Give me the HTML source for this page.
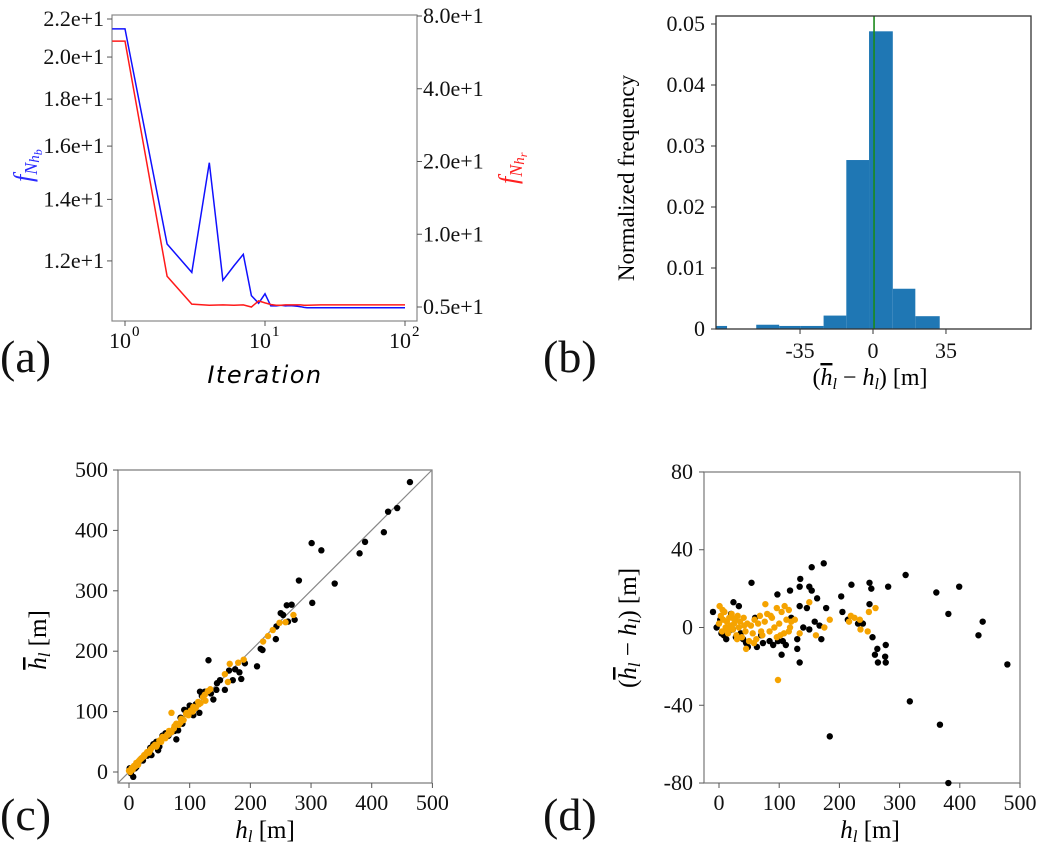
<!DOCTYPE html>
<html><head><meta charset="utf-8">
<style>
html,body{margin:0;padding:0;background:#fff;}
svg{display:block;font-family:"Liberation Serif",serif;}
text{font-family:"Liberation Serif",serif;}
.tk{font-size:22px;fill:#111;font-family:"Liberation Serif",serif;}
.pl{font-size:46px;fill:#111;}
</style></head>
<body>
<svg id="fig" width="1044" height="850" viewBox="0 0 1044 850" xmlns="http://www.w3.org/2000/svg">
<g id="pa"></g>
<g id="pb"></g>
<g id="pc"></g>
<g id="pd"></g>
<text class="pl" x="0" y="372">(a)</text>
<text class="pl" x="543" y="372">(b)</text>
<text class="pl" x="0" y="830">(c)</text>
<text class="pl" x="543" y="830">(d)</text>
</svg>
<script>
// ---- Panel (a) data ----
const iterA = [0.81,1,2,3,4,5,6,7,8,9,10,11,12,13,14,15,16,17,18,19,20,25,30,40,50,60,70,80,90,100];
const blueA = [21.46,21.46,12.52,11.66,15.35,11.43,11.85,12.2,11.0,10.79,11.05,10.72,10.72,10.74,10.72,10.73,10.72,10.71,10.7,10.68,10.67,10.67,10.67,10.67,10.67,10.67,10.67,10.67,10.67,10.67];
const redA = [63,63,6.7,5.14,5.08,5.1,5.08,5.1,5.0,5.3,5.2,5.12,5.08,5.08,5.1,5.1,5.1,5.1,5.1,5.08,5.08,5.1,5.1,5.1,5.1,5.1,5.1,5.1,5.1,5.1];
const leftTicksA = [22,20,18,16,14,12];
const leftTickLabelsA = ["2.2e+1","2.0e+1","1.8e+1","1.6e+1","1.4e+1","1.2e+1"];
const rightTicksA = [80,40,20,10,5];
const rightTickLabelsA = ["8.0e+1","4.0e+1","2.0e+1","1.0e+1","0.5e+1"];
const xTicksA = [1,10,100];
const xTickLabelsA = ["0","1","2"];
// ---- Panel (b) data ----
const binLeftB = [-75.5,-56,-45,-34.6,-23.7,-12.8,-1.9,9.5,20.3];
const binRightB = [-70,-45,-34.6,-23.7,-12.8,-1.9,9.5,20.3,32];
const freqB = [0.0005,0.0007,0.0005,0.0005,0.0022,0.0277,0.0488,0.0066,0.0021];
const yTicksB = [0,0.01,0.02,0.03,0.04,0.05];
const yTickLabelsB = ["0","0.01","0.02","0.03","0.04","0.05"];
const xTicksB = [-35,0,35];
const meanB = 0.5;
// ---- Panel (c) data ----
const cBlackH = [463,427,442,420,389,380,301,317,339,302,280,268,260,273,250,254,262,242,243,217,220,211,131,175,171,182,185,191,150,158,139,144,117,125,116,91,106,78,81,48,37,23,7,1,60,65,55,70,85,95,100,110,30,35,40,45,15,12,20,28,5,3,10,50,75,88,120,135,165,145];
const cBlackHb = [480,431,437,397,381,362,379,367,312,280,317,277,276,252,263,260,249,220,241,204,202,175,185,170,152,165,154,180,152,136,120,136,133,133,98,103,94,54,69,36,28,19,-8,6,64,60,60,66,90,102,110,112,27,40,46,50,14,8,22,28,3,-2,6,42,68,80,126,130,168,147];
const cOrH = [158,163,166,180,189,221,229,237,248,258,271,70,134,0,2,4,6,8,10,12,14,16,18,20,22,25,28,30,33,36,40,43,46,50,53,56,60,63,66,70,74,78,82,86,90,94,98,102,106,110,114,118,122,126,130,5,15,25,35,45,55,65,75,85,95,105,115,125];
const cOrHb = [162,149,179,181,186,216,225,235,247,248,260,98,137,2,0,6,4,10,9,15,12,18,20,22,24,26,30,33,32,38,42,45,44,52,50,58,56,62,68,66,72,80,78,88,86,96,94,102,108,106,116,114,124,118,134,4,12,28,36,42,58,62,76,82,98,100,112,128];
const ticksC = [0,100,200,300,400,500];
// ---- Panel (d) data ----
const dBlackH = [54,174,154,135,134,118,97,150,154,163,178,146,134,159,140,150,167,170,134,130,130,104,111,98,90,70,63,45,184,203,205,220,214,250,253,250,231,239,255,263,259,264,277,276,277,281,310,317,361,381,367,399,381,431,438,479,24,33,4,12,23,40,48,73,84,106,120,-10,-4,8,16,28,36,60,2,20];
const dBlackD = [23,33,31,25,21,19,17,21,19,15,10,10,11,3,0,-1,1,-6,-18,-11,-6,-14,-9,-7,-9,-4,-10,-8,-56,16,8,22,4,23,20,12,2,2,-5,-11,-14,-18,-9,-15,-18,21,27,-38,18,7,-50,21,-80,-4,3,-19,13,11,-3,-6,-1,-6,-10,-8,-7,-7,5,8,0,-4,-2,-5,-3,5,4,7];
const dOrH = [98,150,134,161,175,184,219,225,216,234,235,247,249,260,77,96,109,116,126,45,1,0,3,5,7,9,11,13,15,17,19,21,23,25,27,29,31,33,35,38,41,44,47,50,53,56,59,62,65,68,72,76,80,84,88,92,96,100,104,108,112,116,120,6,14,22,30,42,58,70,86,102,118];
const dOrD = [-27,13,-3,-4,0,4,6,5,3,4,-1,-2,8,10,12,10,11,9,4,-11,11,2,6,-2,4,8,0,3,-3,5,1,7,-1,2,4,-4,6,0,3,-5,5,-2,2,-7,1,-3,4,-6,2,6,-4,3,7,-2,5,0,-5,2,8,-3,4,-2,3,9,-1,5,-6,1,-8,-2,6,-4,0];
const xTicksD = [0,100,200,300,400,500];
const yTicksD = [-80,-40,0,40,80];

const NS="http://www.w3.org/2000/svg";
function mk(parent,tag,attrs,txt){const e=document.createElementNS(NS,tag);for(const k in attrs)e.setAttribute(k,attrs[k]);if(txt!==undefined)e.textContent=txt;parent.appendChild(e);return e;}

// ===== Panel A =====
(function(){
const g=document.getElementById('pa');
const L=112,R=417,T=15,B=321;
const xA=v=>125+140*Math.log10(v);
const yL=v=>19+919*Math.log10(22/v);
const yR=v=>16+72.75*Math.log2(80/v);
let f=mk(g,'rect',{x:L,y:T,width:R-L,height:B-T,fill:'none',stroke:'#888','stroke-width':1.2});


leftTicksA.forEach((v,i)=>{const y=yL(v);
 mk(g,'line',{x1:L-5,x2:L,y1:y,y2:y,stroke:'#555'});
 let t=mk(g,'text',{x:L-8,y:y+7,'text-anchor':'end',class:'tk'},leftTickLabelsA[i]);
 
 });
rightTicksA.forEach((v,i)=>{const y=yR(v);
 mk(g,'line',{x1:R,x2:R+5,y1:y,y2:y,stroke:'#555'});
 let t=mk(g,'text',{x:R+6,y:y+7,class:'tk'},rightTickLabelsA[i]);
 
 });
xTicksA.forEach((v,i)=>{const x=xA(v);
 mk(g,'line',{x1:x,x2:x,y1:B,y2:B+5,stroke:'#555'});
 let t=mk(g,'text',{x:x-5,y:B+27,'text-anchor':'middle',class:'tk'},'10');
 
 
 mk(g,'text',{x:x+7,y:B+15,'font-size':15},xTickLabelsA[i]);});
const pts=(arr,fy)=>iterA.map((v,i)=>xA(v).toFixed(1)+','+fy(arr[i]).toFixed(1)).join(' ');
let b=mk(g,'polyline',{points:pts(blueA,yL),fill:'none',stroke:'#1010ff','stroke-width':1.5});


let r=mk(g,'polyline',{points:pts(redA,yR),fill:'none',stroke:'#ff1a1a','stroke-width':1.5});


let yl=mk(g,'text',{x:0,y:0,transform:'translate(32,182) rotate(-90)',fill:'#2a2aff','font-size':26,'font-style':'italic'});


yl.innerHTML='f<tspan font-size="18" dy="5">N</tspan><tspan font-size="15" dy="2">h</tspan><tspan font-size="12" dy="3">b</tspan>';
let yr=mk(g,'text',{x:0,y:0,transform:'translate(517,184) rotate(-90)',fill:'#ff2020','font-size':26,'font-style':'italic'});


yr.innerHTML='f<tspan font-size="18" dy="5">N</tspan><tspan font-size="15" dy="2">h</tspan><tspan font-size="12" dy="3">r</tspan>';
let xl=mk(g,'text',{x:265,y:383,'text-anchor':'middle','font-size':25,'font-style':'italic','letter-spacing':'1.5'},'Iteration');


xl.setAttribute('style','font-family:"DejaVu Sans",sans-serif;font-size:24px');
})();

// ===== Panel B =====
(function(){
const g=document.getElementById('pb');
const L=716,R=1031,T=16,B=329;
const xB=v=>873+2.085*v;
const yB=v=>B-6100*v;
freqB.forEach((v,i)=>{
 let r=mk(g,'rect',{x:xB(binLeftB[i]),y:yB(v),width:xB(binRightB[i])-xB(binLeftB[i]),height:B-yB(v),fill:'#1f77b4'});
 
 });
let m=mk(g,'line',{x1:xB(meanB),x2:xB(meanB),y1:T,y2:B,stroke:'#1a8a1a','stroke-width':1.6});


let f=mk(g,'rect',{x:L,y:T,width:R-L,height:B-T,fill:'none',stroke:'#333','stroke-width':1.3});


yTicksB.forEach((v,i)=>{const y=yB(v);
 mk(g,'line',{x1:L-5,x2:L,y1:y,y2:y,stroke:'#333'});
 let t=mk(g,'text',{x:L-11,y:y+7,'text-anchor':'end',class:'tk'},yTickLabelsB[i]);
 
 });
xTicksB.forEach(v=>{const x=xB(v);
 mk(g,'line',{x1:x,x2:x,y1:B,y2:B+5,stroke:'#333'});
 let t=mk(g,'text',{x:x,y:B+29,'text-anchor':'middle',class:'tk'},String(v));
 
 });
let yl=mk(g,'text',{x:0,y:0,transform:'translate(634,178) rotate(-90)','text-anchor':'middle','font-size':23},'Normalized frequency');


let xl=mk(g,'text',{x:870,y:385,'text-anchor':'middle','font-size':24});


xl.innerHTML='(<tspan font-style="italic" text-decoration="overline">h</tspan><tspan font-style="italic" font-size="16" dy="4">l</tspan><tspan dy="-4"> − </tspan><tspan font-style="italic">h</tspan><tspan font-style="italic" font-size="16" dy="4">l</tspan><tspan dy="-4">) [m]</tspan>';
})();

// ===== Panel C =====
(function(){
const g=document.getElementById('pc');
const L=118,R=432,T=470,B=783;
const xC=v=>129+0.6068*v;
const yC=v=>772-0.604*v;
let f=mk(g,'rect',{x:L,y:T,width:R-L,height:B-T,fill:'none',stroke:'#777','stroke-width':1.2});


let d=mk(g,'line',{x1:L,y1:B,x2:R,y2:T,stroke:'#888','stroke-width':1.2});


ticksC.forEach(v=>{
 mk(g,'line',{x1:L-5,x2:L,y1:yC(v),y2:yC(v),stroke:'#555'});
 let t=mk(g,'text',{x:L-10,y:yC(v)+7,'text-anchor':'end',class:'tk'},String(v));
 
 
 mk(g,'line',{x1:xC(v),x2:xC(v),y1:B,y2:B+5,stroke:'#555'});
 let t2=mk(g,'text',{x:xC(v),y:B+27,'text-anchor':'middle',class:'tk'},String(v));
 
 });
cBlackH.forEach((h,i)=>{
 let c=mk(g,'circle',{cx:xC(h),cy:yC(cBlackHb[i]),r:3.2,fill:'#000'});
 
 });
cOrH.forEach((h,i)=>{
 let c=mk(g,'circle',{cx:xC(h),cy:yC(cOrHb[i]),r:3.2,fill:'#f5a300'});
 
 });
let yl=mk(g,'text',{x:0,y:0,transform:'translate(46,640) rotate(-90)','text-anchor':'middle','font-size':25});


yl.innerHTML='<tspan font-style="italic" text-decoration="overline">h</tspan><tspan font-style="italic" font-size="17" dy="4">l</tspan><tspan dy="-4"> [m]</tspan>';
let xl=mk(g,'text',{x:265,y:838,'text-anchor':'middle','font-size':25});


xl.innerHTML='<tspan font-style="italic">h</tspan><tspan font-style="italic" font-size="17" dy="4">l</tspan><tspan dy="-4">  [m]</tspan>';
})();

// ===== Panel D =====
(function(){
const g=document.getElementById('pd');
const L=704,R=1020,T=472,B=783;
const xD=v=>719+0.602*v;
const yD=v=>627.5-1.944*v;
let f=mk(g,'rect',{x:L,y:T,width:R-L,height:B-T,fill:'none',stroke:'#777','stroke-width':1.2});


yTicksD.forEach(v=>{
 mk(g,'line',{x1:L-5,x2:L,y1:yD(v),y2:yD(v),stroke:'#555'});
 let t=mk(g,'text',{x:L-11,y:yD(v)+7,'text-anchor':'end',class:'tk'},String(v));
 
 });
xTicksD.forEach(v=>{
 mk(g,'line',{x1:xD(v),x2:xD(v),y1:B,y2:B+5,stroke:'#555'});
 let t=mk(g,'text',{x:xD(v),y:B+27,'text-anchor':'middle',class:'tk'},String(v));
 
 });
dBlackH.forEach((h,i)=>{
 let c=mk(g,'circle',{cx:xD(h),cy:yD(dBlackD[i]),r:3.2,fill:'#000'});
 
 });
dOrH.forEach((h,i)=>{
 let c=mk(g,'circle',{cx:xD(h),cy:yD(dOrD[i]),r:3.2,fill:'#f5a300'});
 
 });
let yl=mk(g,'text',{x:0,y:0,transform:'translate(636,628) rotate(-90)','text-anchor':'middle','font-size':25});


yl.innerHTML='(<tspan font-style="italic" text-decoration="overline">h</tspan><tspan font-style="italic" font-size="17" dy="4">l</tspan><tspan dy="-4"> − </tspan><tspan font-style="italic">h</tspan><tspan font-style="italic" font-size="17" dy="4">l</tspan><tspan dy="-4">) [m]</tspan>';
let xl=mk(g,'text',{x:870,y:838,'text-anchor':'middle','font-size':25});


xl.innerHTML='<tspan font-style="italic">h</tspan><tspan font-style="italic" font-size="17" dy="4">l</tspan><tspan dy="-4">  [m]</tspan>';
})();
</script>
</body></html>
